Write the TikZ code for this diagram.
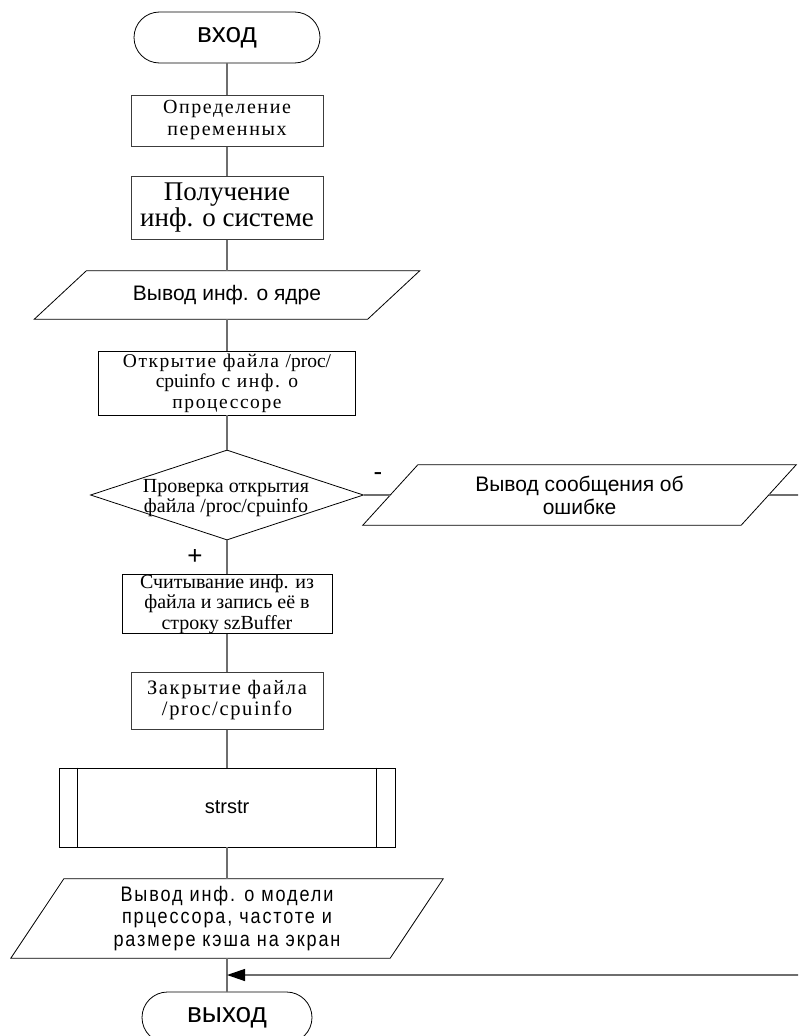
\documentclass[tikz,border=0pt]{standalone}
\usepackage{fontspec}
\setmainfont{Liberation Serif}
\newfontfamily\fserif{Liberation Serif}
\newfontfamily\fserifsp[LetterSpace=8]{Liberation Serif}
\newfontfamily\fsans{Liberation Sans}
\newfontfamily\fnarrow[FakeStretch=0.86,LetterSpace=9]{Liberation Sans}
\usetikzlibrary{shapes.geometric,shapes.misc,arrows.meta,calc}
\definecolor{conngray}{RGB}{110,110,110}
\definecolor{boxgray}{RGB}{60,60,60}
\newcommand\ioshape[2]{\draw[io] ($(#1.north west)+(#2,0)$) -- ($(#1.north east)+(#2,0)$) -- ($(#1.south east)+(-#2,0)$) -- ($(#1.south west)+(-#2,0)$) -- cycle;}
\tikzset{
  box/.style={draw=boxgray, line width=1pt, inner sep=0pt, align=center},
  blackbox/.style={draw=black, line width=0.8pt, inner sep=0pt, align=center},
  term/.style={rounded rectangle, draw=black, line width=0.8pt, inner sep=0pt,
    minimum height=51, font=\fontsize{28}{30}\fsans},
  iobody/.style={inner sep=0pt, align=center},
  io/.style={draw=black, line width=0.8pt},
  dia/.style={diamond, draw=black, line width=0.8pt, inner sep=0pt, aspect=3.03},
  conn/.style={draw=conngray, line width=1.3pt},
  mark label/.style={inner sep=0pt, font=\fontsize{26}{26}\fsans}
}
\begin{document}
\lineskiplimit=-50pt
\lineskip=0pt
\begin{tikzpicture}[x=1pt,y=-1pt]
\useasboundingbox (0,0) rectangle (798,1036);
\fill[white] (0,0) rectangle (798,1036);
\clip (0,0) rectangle (798,1036);

% nodes
\node[term, minimum width=186] (start) at (227,37.5) {вход};
\node[box, minimum width=192, minimum height=51,
  font=\fontsize{20}{22}\fserifsp] (b1) at (227,120.5) {Определение\\переменных};
\node[box, minimum width=192, minimum height=63,
  font=\fontsize{27}{26}\fserif] (b2) at (227,207.5) {Получение\\инф. о системе};
\node[iobody, minimum width=333, minimum height=48,
  font=\fontsize{21}{24}\fsans] (p1) at (227,295) {Вывод инф. о ядре};
\ioshape{p1}{26}
\node[blackbox, minimum width=257, minimum height=64,
  font=\fontsize{19.5}{20.5}\fserifsp] (b3) at (227,383)
  {Открытие файла {\fserif /proc/}\\{\fserif cpuinfo} с инф. о\\процессоре};
\node[dia, minimum width=273, minimum height=90] (d) at (227,495) {};
\node[inner sep=0pt, align=center,
  font=\fontsize{20}{20}\fserif] (dt) at (226,498)
  {Проверка открытия\\файла /proc/cpuinfo};
\node[iobody, minimum width=378, minimum height=60,
  font=\fontsize{21}{23}\fsans] (p2) at (579.5,495)
  {Вывод сообщения об\\ошибке};
\ioshape{p2}{27.5}
\node[blackbox, minimum width=210, minimum height=58,
  font=\fontsize{20}{20.5}\fserif] (b4) at (227,604)
  {Считывание инф. из\\файла и запись её в\\строку szBuffer};
\node[box, minimum width=192, minimum height=57,
  font=\fontsize{20.5}{21}\fserifsp] (b5) at (227,700.5)
  {Закрытие файла\\/proc/cpuinfo};
\node[blackbox, minimum width=336, minimum height=79,
  font=\fontsize{20}{22}\fsans] (ss) at (227,807.5) {strstr};
\draw[black, line width=0.8pt] ($(ss.north west)+(19,0)$) -- ($(ss.south west)+(19,0)$);
\draw[black, line width=0.8pt] ($(ss.north east)+(-19,0)$) -- ($(ss.south east)+(-19,0)$);
\node[iobody, minimum width=379, minimum height=79,
  font=\fontsize{21}{22.5}\fnarrow] (p3) at (227,918.5)
  {Вывод инф. о модели\\прцессора, частоте и\\размере кэша на экран};
\ioshape{p3}{26.5}
\node[term, minimum width=170] (end) at (227,1017.5) {выход};

\node[mark label] (minus) at (378,477) {-};
\node[mark label] (plus) at (195,557) {+};

\coordinate (join) at (227,975);
\coordinate (rc) at (812,975);

% connectors
\draw[conn] (start.south) -- (b1.north);
\draw[conn] (b1.south) -- (b2.north);
\draw[conn] (b2.south) -- (p1.north);
\draw[conn] (p1.south) -- (b3.north);
\draw[conn] (b3.south) -- (d.north);
\draw[conn] (d.south) -- (b4.north);
\draw[conn] (d.east) -- (p2.west);
\draw[conn] (b4.south) -- (b5.north);
\draw[conn] (b5.south) -- (ss.north);
\draw[conn] (ss.south) -- (p3.north);
\draw[conn] (p3.south) -- (end.north);
\draw[conn, -{Triangle[length=18pt,width=12pt,color=black]}] (p2.east) -| (rc) -- (join);
\end{tikzpicture}
\end{document}
